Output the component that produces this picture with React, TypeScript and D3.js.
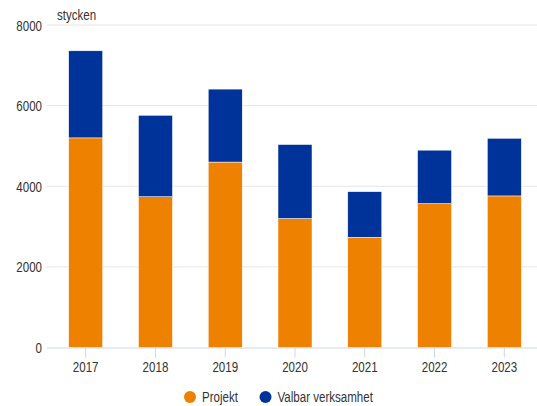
import React from "react";
import * as d3 from "d3";

const years = ["2017", "2018", "2019", "2020", "2021", "2022", "2023"];
const projekt = [5200, 3740, 4600, 3200, 2735, 3570, 3760];
const valbar = [2160, 2020, 1810, 1835, 1130, 1325, 1430];
const yTicks = [0, 2000, 4000, 6000, 8000];
const seriesNames = ["Projekt", "Valbar verksamhet"];
const seriesColors = ["#EE8100", "#003399"];

const W = 537;
const H = 406;
const FONT = "'Liberation Sans', Arial, sans-serif";
const SX = 0.77;

function T({ x, y, anchor = "start", size = 15, children }: any) {
  return (
    <text
      transform={`translate(${x},${y}) scale(${SX},1)`}
      textAnchor={anchor}
      fontSize={size}
      fill="#333333"
    >
      {children}
    </text>
  );
}

export default function App() {
  const x = d3.scaleBand<string>().domain(years).range([50.8, 539.2]).paddingInner(0).paddingOuter(0);
  const y = d3.scaleLinear().domain([0, 8000]).range([347.5, 25]);
  const barW = 34;

  const stackData = years.map((yr, i) => ({ year: yr, Projekt: projekt[i], Valbar: valbar[i] }));
  const stack = d3.stack<any>().keys(["Projekt", "Valbar"]);
  const layers = stack(stackData);

  return (
    <svg width={W} height={H} style={{ position: "absolute", left: 0, top: 0, fontFamily: FONT }}>
      <rect width={W} height={H} fill="#ffffff" />
      {yTicks.map((t) => (
        <g key={t}>
          {t !== 0 && <line x1={47} x2={W} y1={y(t)} y2={y(t)} stroke="#e6e6e6" strokeWidth={1} />}
          <T x={42} y={y(t) + 5.5} anchor="end">{t}</T>
        </g>
      ))}
      <T x={57} y={20}>stycken</T>
      {layers.map((layer, li) => (
        <g key={li}>
          {layer.map((d, i) => (
            <rect
              key={i}
              x={(x(years[i]) as number) + x.bandwidth() / 2 - barW / 2}
              y={y(d[1])}
              width={barW}
              height={y(d[0]) - y(d[1])}
              fill={seriesColors[li]}
              stroke="#ffffff"
              strokeWidth={0.5}
            />
          ))}
        </g>
      ))}
      <line x1={47} x2={W} y1={y(0) + 0.5} y2={y(0) + 0.5} stroke="#ccd6eb" strokeWidth={1} />
      {years.map((yr) => {
        const cx = (x(yr) as number) + x.bandwidth() / 2;
        return (
          <g key={yr}>
            <line x1={cx} x2={cx} y1={y(0)} y2={y(0) + 10} stroke="#ccd6eb" strokeWidth={1} />
            <T x={cx} y={372} anchor="middle">{yr}</T>
          </g>
        );
      })}
      {seriesNames.map((n, i) => {
        const lx = i === 0 ? 190 : 265.5;
        return (
          <g key={n}>
            <circle cx={lx} cy={397} r={6} fill={seriesColors[i]} />
            <T x={lx + 12} y={402}>{n}</T>
          </g>
        );
      })}
    </svg>
  );
}
